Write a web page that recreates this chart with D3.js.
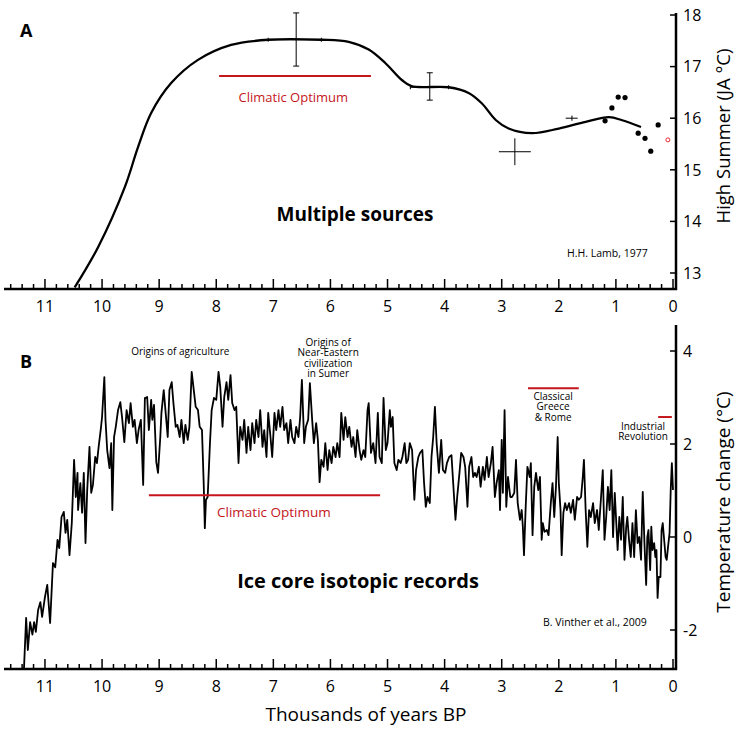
<!DOCTYPE html>
<html>
<head>
<meta charset="utf-8">
<script src="https://cdn.jsdelivr.net/npm/d3@7"></script>
<style>
  body { margin: 0; background: #fff; }
  svg { font-family: 'Open Sans', sans-serif; }
</style>
</head>
<body>
<svg id="chart" width="740" height="731"></svg>
<script>
// ---- Data (thousands of years BP, temperature) ----

// Panel A: H.H. Lamb (1977) smoothed high summer curve
const lambCurve = [
  [10.48, 12.72], [10.07, 13.5], [9.6, 14.67], [9.37, 15.44], [9.14, 16.1],
  [8.79, 16.68], [8.32, 17.13], [7.74, 17.42], [7.09, 17.52], [6.16, 17.52],
  [5.68, 17.48], [5.33, 17.33], [5.04, 17.07], [4.75, 16.74], [4.58, 16.62],
  [3.93, 16.6], [3.58, 16.49], [3.35, 16.29], [3.1, 15.96], [2.88, 15.8],
  [2.47, 15.71], [2.0, 15.8], [1.53, 15.93], [1.12, 16.02], [0.89, 15.96],
  [0.56, 15.83]
];

// error crosses: centre, age range, temperature range
const lambErrors = [
  { yr: 6.6, t: 17.52, yrLo: 6.16, yrHi: 7.09, tLo: 17.01, tHi: 18.04 },
  { yr: 4.26, t: 16.6, yrLo: 3.93, yrHi: 4.6, tLo: 16.35, tHi: 16.88 },
  { yr: 2.77, t: 15.35, yrLo: 2.49, yrHi: 3.05, tLo: 15.09, tHi: 15.61 },
  { yr: 1.77, t: 16.0, yrLo: 1.67, yrHi: 1.88, tLo: 15.95, tHi: 16.05 }
];

const lambDots = [
  [1.19, 15.95], [1.07, 16.2], [0.96, 16.41], [0.84, 16.4],
  [0.61, 15.71], [0.49, 15.61], [0.39, 15.36], [0.26, 15.87]
];
const lambModern = [[0.09, 15.58]];

// Panel B: B. Vinther et al. (2009) ice core record
const vintherSeries = [
  [11.37, -2.9], [11.33, -1.74], [11.3, -2.43], [11.26, -1.83], [11.22, -2.1], [11.19, -1.83],
  [11.16, -2.04], [11.12, -1.57], [11.08, -1.4], [11.05, -1.72], [11.0, -1.29], [10.96, -1.03],
  [10.91, -1.85], [10.86, -0.56], [10.82, -0.65], [10.78, -0.06], [10.75, -0.24], [10.71, 0.43],
  [10.67, 0.54], [10.64, 0.09], [10.61, 0.37], [10.57, -0.39], [10.53, 0.3], [10.49, 1.66],
  [10.46, 0.86], [10.43, 1.38], [10.42, 0.58], [10.38, 1.16], [10.35, 0.52], [10.32, 1.38],
  [10.29, -0.13], [10.26, 1.01], [10.22, 1.94], [10.19, 0.95], [10.16, 1.12], [10.12, 1.72],
  [10.09, 1.59], [10.06, 1.94], [10.02, 2.34], [10.0, 2.58], [9.96, 3.44], [9.94, 2.52],
  [9.91, 1.87], [9.87, 1.48], [9.84, 2.02], [9.82, 0.58], [9.79, 2.15], [9.76, 2.37],
  [9.72, 2.73], [9.68, 2.9], [9.65, 2.58], [9.61, 2.04], [9.57, 2.73], [9.53, 2.45],
  [9.5, 2.88], [9.46, 2.37], [9.43, 2.52], [9.39, 2.02], [9.36, 2.3], [9.32, 2.52],
  [9.28, 1.12], [9.25, 2.99], [9.21, 3.01], [9.18, 2.3], [9.14, 2.95], [9.12, 2.52],
  [9.09, 2.84], [9.05, 1.61], [9.02, 1.38], [8.98, 2.15], [8.96, 2.67], [8.92, 3.16],
  [8.89, 2.73], [8.85, 2.15], [8.82, 3.16], [8.78, 3.33], [8.75, 2.88], [8.71, 2.37],
  [8.68, 2.41], [8.64, 2.15], [8.61, 2.52], [8.57, 2.02], [8.54, 2.41], [8.5, 2.09],
  [8.47, 2.37], [8.43, 3.55], [8.4, 3.23], [8.36, 2.8], [8.32, 2.73], [8.29, 2.37],
  [8.25, 2.3], [8.22, 1.16], [8.2, 0.19], [8.18, 0.8], [8.15, 0.86], [8.11, 2.02],
  [8.08, 2.73], [8.04, 2.99], [8.0, 2.95], [7.96, 3.55], [7.93, 3.23], [7.89, 2.37],
  [7.86, 3.01], [7.82, 3.33], [7.79, 2.95], [7.75, 3.48], [7.72, 2.88], [7.68, 2.73],
  [7.65, 2.8], [7.61, 1.59], [7.58, 2.37], [7.54, 2.09], [7.51, 2.52], [7.47, 1.81],
  [7.44, 2.37], [7.4, 1.87], [7.37, 2.45], [7.33, 2.02], [7.3, 2.52], [7.26, 2.15],
  [7.23, 2.73], [7.19, 1.94], [7.16, 2.3], [7.12, 1.72], [7.09, 2.67], [7.05, 2.15],
  [7.02, 1.72], [6.98, 2.67], [6.95, 2.3], [6.91, 2.73], [6.88, 2.37], [6.84, 2.8],
  [6.81, 2.3], [6.77, 2.45], [6.74, 2.02], [6.7, 2.52], [6.67, 2.15], [6.63, 2.02],
  [6.6, 2.37], [6.56, 2.15], [6.53, 2.58], [6.5, 3.38], [6.46, 2.02], [6.43, 2.37],
  [6.39, 2.52], [6.36, 3.31], [6.32, 2.52], [6.29, 2.02], [6.25, 2.45], [6.22, 2.09],
  [6.19, 1.18], [6.16, 1.66], [6.12, 1.51], [6.09, 2.02], [6.05, 1.44], [6.02, 1.87],
  [5.98, 1.59], [5.95, 1.94], [5.91, 1.72], [5.88, 2.02], [5.84, 1.72], [5.81, 2.67],
  [5.77, 2.09], [5.74, 2.58], [5.7, 2.15], [5.67, 2.37], [5.63, 1.94], [5.6, 2.15],
  [5.56, 1.72], [5.53, 2.3], [5.49, 1.87], [5.46, 1.66], [5.42, 1.87], [5.39, 1.72],
  [5.35, 2.73], [5.33, 2.88], [5.29, 1.81], [5.25, 2.02], [5.21, 1.59], [5.17, 2.67],
  [5.14, 1.72], [5.1, 1.59], [5.07, 2.99], [5.03, 1.87], [5.0, 2.02], [4.96, 2.73],
  [4.94, 2.37], [4.91, 2.58], [4.88, 1.59], [4.84, 1.44], [4.81, 1.66], [4.77, 1.59],
  [4.74, 1.72], [4.7, 2.02], [4.67, 1.59], [4.64, 1.66], [4.61, 2.02], [4.57, 1.87],
  [4.53, 0.8], [4.5, 1.44], [4.46, 1.72], [4.43, 1.81], [4.39, 1.87], [4.36, 1.16],
  [4.33, 0.65], [4.3, 0.86], [4.26, 0.73], [4.23, 1.72], [4.2, 2.15], [4.17, 2.8],
  [4.14, 2.02], [4.1, 1.38], [4.06, 2.09], [4.03, 1.44], [3.99, 1.38], [3.96, 1.59],
  [3.92, 1.72], [3.88, 1.76], [3.85, 1.16], [3.81, 0.37], [3.78, 0.86], [3.74, 1.38],
  [3.71, 1.81], [3.67, 1.72], [3.64, 1.51], [3.6, 0.65], [3.57, 1.51], [3.53, 1.72],
  [3.5, 1.29], [3.47, 1.38], [3.44, 1.29], [3.4, 1.51], [3.37, 1.08], [3.33, 1.51],
  [3.3, 1.23], [3.26, 1.72], [3.23, 1.29], [3.19, 1.59], [3.16, 1.94], [3.12, 0.86],
  [3.09, 1.16], [3.05, 1.44], [3.03, 0.58], [3.0, 2.09], [2.98, 0.95], [2.95, 2.73],
  [2.92, 0.65], [2.89, 1.29], [2.85, 0.86], [2.82, 0.86], [2.78, 0.95], [2.75, 1.66],
  [2.72, 0.73], [2.68, 0.37], [2.65, 0.58], [2.63, 0.22], [2.61, -0.39], [2.58, 0.65],
  [2.55, 1.51], [2.51, 1.29], [2.49, 1.59], [2.46, 0.04], [2.43, 1.08], [2.4, 1.38],
  [2.36, 1.01], [2.33, 1.29], [2.3, -0.06], [2.28, 0.3], [2.25, 0.11], [2.21, 0.15],
  [2.18, 0.04], [2.14, 0.73], [2.11, 1.16], [2.08, 0.43], [2.05, 1.08], [2.02, 2.15],
  [2.0, 1.16], [1.97, 0.58], [1.95, -0.39], [1.92, 0.52], [1.89, 0.73], [1.86, 0.58],
  [1.82, 0.73], [1.79, 0.52], [1.75, 0.8], [1.72, 0.37], [1.68, 0.86], [1.65, 0.8],
  [1.61, 0.86], [1.58, 1.29], [1.56, 1.66], [1.53, 0.58], [1.5, -0.21], [1.47, 0.58],
  [1.44, 0.43], [1.4, 0.73], [1.37, 0.3], [1.33, 0.58], [1.3, 0.15], [1.26, 0.86],
  [1.23, 1.44], [1.2, -0.06], [1.17, 0.43], [1.14, 1.08], [1.11, 0.58], [1.08, 1.44],
  [1.05, 0.0], [1.02, 0.95], [0.99, 0.22], [0.97, -0.28], [0.94, 0.43], [0.91, -0.06],
  [0.88, 0.86], [0.85, -0.49], [0.82, 0.22], [0.8, 0.43], [0.77, -0.06], [0.74, -0.43],
  [0.71, 0.3], [0.68, -0.43], [0.65, 0.58], [0.62, -0.13], [0.59, 0.0], [0.56, -0.49],
  [0.53, 0.97], [0.5, -0.13], [0.47, -1.03], [0.45, 0.0], [0.43, 0.15], [0.4, -0.71],
  [0.38, 0.22], [0.36, -0.28], [0.33, -0.13], [0.31, -0.43], [0.29, -0.28], [0.27, -1.31],
  [0.25, -0.86], [0.22, -0.86], [0.2, 0.15], [0.18, 0.3], [0.15, -0.13], [0.13, -0.43],
  [0.11, -0.49], [0.08, -0.13], [0.06, 0.09], [0.04, 1.01], [0.02, 1.59], [0.0, 1.01]
];

// Tick values
const yearTicks = [0, 1, 2, 3, 4, 5, 6, 7, 8, 9, 10, 11];
const lambTempTicks = [13, 14, 15, 16, 17, 18];
const vintherTempTicks = [-2, 0, 2, 4];

// Period bars (start, end in ka BP, level)
const lambOptimum = { from: 7.95, to: 5.29, t: 16.82 };
const vintherOptimum = { from: 9.18, to: 5.13, t: 0.9 };
const classicalPeriod = { from: 2.54, to: 1.65, t: 3.2 };
const industrialPeriod = { from: 0.26, to: 0.02, t: 2.58 };

// ---- Scales ----
const red = '#c4161c';
const svg = d3.select('#chart');

const x = d3.scaleLinear().domain([0, 11.7]).range([673, 5]);
const yA = d3.scaleLinear().domain([13, 18]).range([273, 15]);
const yB = d3.scaleLinear().domain([-2, 4]).range([630, 351]);

const minorTicks = d3.range(0, 11.7, 0.2).filter(v => Math.abs(v - Math.round(v)) > 0.01);

// x axis with inward (upward) ticks; baseline at given y
function drawYearAxis(g, axisY, labelY) {
  g.append('line')
    .attr('x1', 4).attr('x2', 677)
    .attr('y1', axisY).attr('y2', axisY)
    .attr('stroke', 'black').attr('stroke-width', 2.5);
  g.selectAll('.minor')
    .data(minorTicks).join('line')
    .attr('x1', d => x(d)).attr('x2', d => x(d))
    .attr('y1', axisY).attr('y2', axisY - 5)
    .attr('stroke', 'black').attr('stroke-width', 1.5);
  g.selectAll('.major')
    .data(yearTicks).join('line')
    .attr('x1', d => x(d)).attr('x2', d => x(d))
    .attr('y1', axisY).attr('y2', axisY - 10)
    .attr('stroke', 'black').attr('stroke-width', 1.5);
  g.selectAll('.lbl')
    .data(yearTicks).join('text')
    .attr('x', d => x(d)).attr('y', labelY)
    .attr('text-anchor', 'middle')
    .style('font-size', '16px')
    .text(d => d);
}

// right-hand temperature axis
function drawTempAxis(g, scale, ticks, top, bottom, title, titleY, titleSize) {
  g.append('line')
    .attr('x1', 676).attr('x2', 676)
    .attr('y1', top).attr('y2', bottom)
    .attr('stroke', 'black').attr('stroke-width', 2.5);
  g.selectAll('.tick')
    .data(ticks).join('line')
    .attr('x1', 676).attr('x2', 670)
    .attr('y1', d => scale(d)).attr('y2', d => scale(d))
    .attr('stroke', 'black').attr('stroke-width', 1.5);
  g.selectAll('.lbl')
    .data(ticks).join('text')
    .attr('x', 683).attr('y', d => scale(d))
    .attr('dy', '0.36em')
    .style('font-size', '16px')
    .text(d => d);
  g.append('text')
    .attr('transform', `translate(730, ${titleY}) rotate(-90)`)
    .attr('text-anchor', 'middle')
    .style('font-size', titleSize)
    .text(title);
}

// ---- Panel A ----
const gA = svg.append('g');
drawYearAxis(gA, 289, 312);
drawTempAxis(gA, yA, lambTempTicks, 13, 290, 'High Summer (JA °C)', 136, '18.5px');

gA.append('line')
  .attr('x1', x(lambOptimum.from)).attr('x2', x(lambOptimum.to))
  .attr('y1', yA(lambOptimum.t)).attr('y2', yA(lambOptimum.t))
  .attr('stroke', red).attr('stroke-width', 2);
gA.append('text')
  .attr('x', x(6.65)).attr('y', 102)
  .attr('text-anchor', 'middle')
  .attr('fill', red)
  .style('font-size', '13px')
  .text('Climatic Optimum');

gA.append('path')
  .datum(lambCurve)
  .attr('d', d3.line().x(d => x(d[0])).y(d => yA(d[1])).curve(d3.curveCatmullRom))
  .attr('fill', 'none')
  .attr('stroke', 'black')
  .attr('stroke-width', 2.3);

// error crosses; only the two crosses sitting on the curve carry end caps
const cap = 3;
lambErrors.forEach((e, i) => {
  const cx = x(e.yr), cy = yA(e.t);
  gA.append('line')
    .attr('x1', cx).attr('x2', cx).attr('y1', yA(e.tLo)).attr('y2', yA(e.tHi))
    .attr('stroke', 'black').attr('stroke-width', 1);
  gA.append('line')
    .attr('x1', x(e.yrHi)).attr('x2', x(e.yrLo)).attr('y1', cy).attr('y2', cy)
    .attr('stroke', 'black').attr('stroke-width', 1);
  if (i > 1) return;
  [e.tLo, e.tHi].forEach(t => gA.append('line')
    .attr('x1', cx - cap).attr('x2', cx + cap).attr('y1', yA(t)).attr('y2', yA(t))
    .attr('stroke', 'black').attr('stroke-width', 1));
  [e.yrLo, e.yrHi].forEach(v => gA.append('line')
    .attr('x1', x(v)).attr('x2', x(v)).attr('y1', cy - 2).attr('y2', cy + 2)
    .attr('stroke', 'black').attr('stroke-width', 1));
});

gA.selectAll('.dot')
  .data(lambDots).join('circle')
  .attr('cx', d => x(d[0])).attr('cy', d => yA(d[1]))
  .attr('r', 2.6).attr('fill', 'black');
gA.selectAll('.modern')
  .data(lambModern).join('circle')
  .attr('cx', d => x(d[0])).attr('cy', d => yA(d[1]))
  .attr('r', 2).attr('fill', 'white')
  .attr('stroke', '#e8262b').attr('stroke-width', 1);

gA.append('text')
  .attr('x', 20).attr('y', 37)
  .style('font-size', '18px').style('font-weight', 'bold')
  .text('A');
gA.append('text')
  .attr('x', 355).attr('y', 221)
  .attr('text-anchor', 'middle')
  .style('font-size', '19px').style('font-weight', 'bold')
  .text('Multiple sources');
gA.append('text')
  .attr('x', 567).attr('y', 257)
  .style('font-size', '10.5px')
  .text('H.H. Lamb, 1977');

// ---- Panel B ----
const gB = svg.append('g');
drawYearAxis(gB, 669, 692);
drawTempAxis(gB, yB, vintherTempTicks, 325, 670, 'Temperature change (°C)', 502, '19px');

svg.append('clipPath').attr('id', 'clipB')
  .append('rect').attr('x', 0).attr('y', 320).attr('width', 676).attr('height', 348);

gB.append('path')
  .datum(vintherSeries)
  .attr('clip-path', 'url(#clipB)')
  .attr('d', d3.line().x(d => x(d[0])).y(d => yB(d[1])))
  .attr('fill', 'none')
  .attr('stroke', 'black')
  .attr('stroke-width', 1.8)
  .attr('stroke-linejoin', 'round');

[vintherOptimum, classicalPeriod, industrialPeriod].forEach(p => {
  gB.append('line')
    .attr('x1', x(p.from)).attr('x2', x(p.to))
    .attr('y1', yB(p.t)).attr('y2', yB(p.t))
    .attr('stroke', red).attr('stroke-width', 2);
});

gB.append('text')
  .attr('x', x(6.99)).attr('y', 517)
  .attr('text-anchor', 'middle')
  .attr('fill', red)
  .style('font-size', '13.5px')
  .text('Climatic Optimum');

// small black annotations (lines of text)
function note(lines, cx, firstY) {
  const t = gB.append('text')
    .attr('text-anchor', 'middle')
    .style('font-size', '10px');
  lines.forEach((l, i) => t.append('tspan')
    .attr('x', cx).attr('y', firstY + i * 10.3)
    .text(l));
}
note(['Origins of agriculture'], x(8.63), 355);
note(['Origins of', 'Near-Eastern', 'civilization', 'in Sumer'], x(6.04), 346);
note(['Classical', 'Greece', '& Rome'], x(2.1), 400);
note(['Industrial', 'Revolution'], x(0.525), 430);

gB.append('text')
  .attr('x', 20).attr('y', 368)
  .style('font-size', '18px').style('font-weight', 'bold')
  .text('B');
gB.append('text')
  .attr('x', 358).attr('y', 588)
  .attr('text-anchor', 'middle')
  .style('font-size', '20px').style('font-weight', 'bold')
  .text('Ice core isotopic records');
gB.append('text')
  .attr('x', 543).attr('y', 626)
  .style('font-size', '10.5px')
  .text('B. Vinther et al., 2009');

svg.append('text')
  .attr('x', 366).attr('y', 721)
  .attr('text-anchor', 'middle')
  .style('font-size', '19px')
  .text('Thousands of years BP');
</script>
</body>
</html>
